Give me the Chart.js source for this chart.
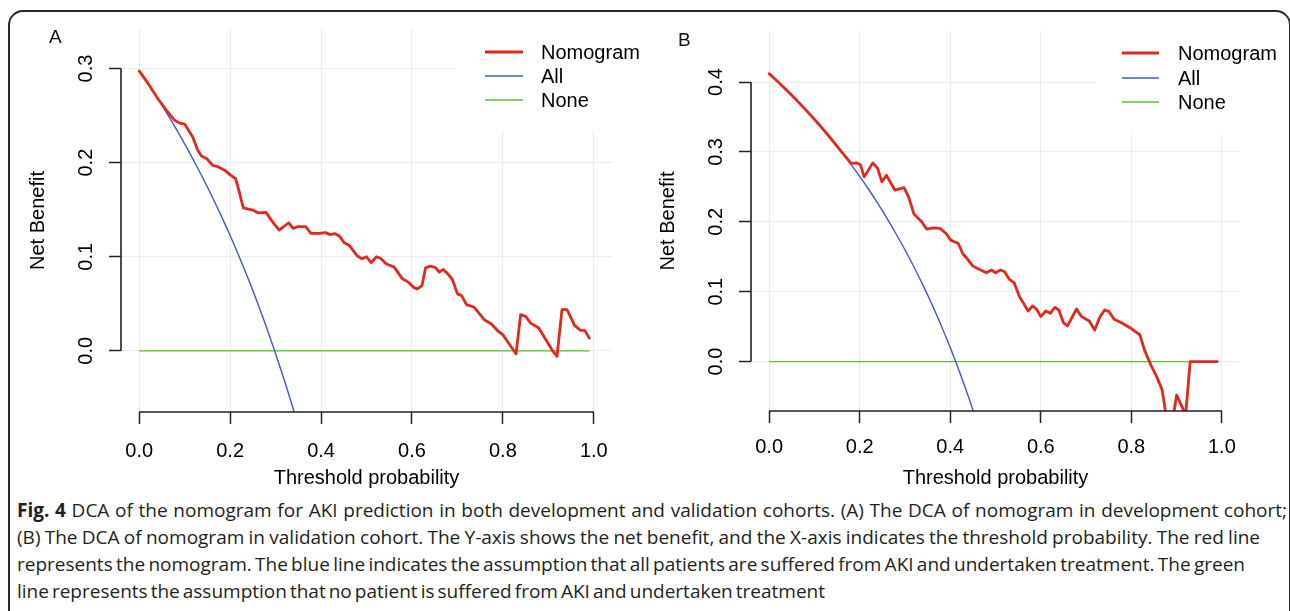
<!DOCTYPE html>
<html>
<head>
<meta charset="utf-8">
<script src="https://cdn.jsdelivr.net/npm/chart.js@4.4.1/dist/chart.umd.min.js"></script>
<style>
html,body{margin:0;padding:0;background:#fff;width:1290px;height:611px;overflow:hidden;position:relative;}
#frame{position:absolute;left:8px;top:10px;width:1279px;height:700px;border:2px solid #2a2a2a;border-radius:15px;}
.cv{position:absolute;top:0;}
.panel{position:absolute;font:19px "Liberation Sans",Arial,sans-serif;color:#111;line-height:20px;}
.cap{position:absolute;left:17px;font-family:"Open Sans",sans-serif;font-size:17px;color:#231f20;white-space:nowrap;line-height:20px;}
.cap b{font-weight:700;}
</style>
</head>
<body>
<div id="frame"></div>
<canvas id="cA" class="cv" style="left:0;width:660px;height:490px" width="660" height="490"></canvas>
<canvas id="cB" class="cv" style="left:640px;width:640px;height:490px" width="640" height="490"></canvas>
<div class="panel" style="left:49px;top:27px">A</div>
<div class="panel" style="left:678px;top:30px">B</div>
<div class="cap" style="top:500px"><b>Fig. 4</b> DCA of the nomogram for AKI prediction in both development and validation cohorts. (A) The DCA of nomogram in development cohort;</div>
<div class="cap" style="top:527px">(B) The DCA of nomogram in validation cohort. The Y-axis shows the net benefit, and the X-axis indicates the threshold probability. The red line</div>
<div class="cap" style="top:554px">represents the nomogram. The blue line indicates the assumption that all patients are suffered from AKI and undertaken treatment. The green</div>
<div class="cap" style="top:581px">line represents the assumption that no patient is suffered from AKI and undertaken treatment</div>
<script>
// ---------- data ----------
const seriesNames = ['Nomogram', 'All', 'None'];
const xTickLabels = ['0.0', '0.2', '0.4', '0.6', '0.8', '1.0'];
const yTickLabelsA = ['0.0', '0.1', '0.2', '0.3'];
const yTickLabelsB = ['0.0', '0.1', '0.2', '0.3', '0.4'];

// Panel A (development cohort)
const thresholdsA = [0,0.02,0.04,0.06,0.078,0.089,0.1,0.118,0.129,0.137,0.149,0.162,0.173,0.191,0.2,0.212,0.219,0.229,0.25,0.261,0.279,0.293,0.308,0.329,0.339,0.348,0.366,0.378,0.396,0.41,0.42,0.43,0.44,0.451,0.462,0.48,0.49,0.5,0.51,0.522,0.532,0.543,0.561,0.579,0.592,0.605,0.612,0.622,0.63,0.641,0.652,0.66,0.669,0.678,0.689,0.7,0.709,0.72,0.737,0.759,0.775,0.79,0.8,0.815,0.829,0.839,0.85,0.861,0.879,0.897,0.908,0.919,0.93,0.941,0.958,0.971,0.98,0.99];
const nomogramA = [0.2975,0.2837,0.2687,0.2555,0.245,0.242,0.241,0.227,0.213,0.207,0.204,0.197,0.1956,0.191,0.187,0.183,0.171,0.152,0.1496,0.1467,0.1471,0.1372,0.1283,0.1361,0.1301,0.1319,0.1319,0.1249,0.1249,0.1256,0.1235,0.1246,0.1221,0.115,0.112,0.1007,0.0979,0.1,0.0936,0.1,0.0979,0.0925,0.089,0.0765,0.073,0.0669,0.0658,0.0694,0.0883,0.09,0.0883,0.0836,0.0865,0.0822,0.0758,0.0605,0.0587,0.0491,0.0463,0.0331,0.0285,0.0206,0.0171,0.0064,-0.0032,0.0384,0.0367,0.0295,0.0242,0.01,0.0011,-0.006,0.0438,0.0438,0.0267,0.0217,0.0217,0.0135];
const allThresholdsA = [0,0.02,0.04,0.06,0.08,0.1,0.12,0.14,0.16,0.18,0.2,0.22,0.24,0.26,0.28,0.3,0.32,0.34,0.36];
const allA = [0.298,0.2837,0.2687,0.2532,0.237,0.22,0.2023,0.1837,0.1643,0.1439,0.1225,0.1,0.0763,0.0514,0.025,-0.0029,-0.0324,-0.0636,-0.0969];

// Panel B (validation cohort)
const thresholdsB = [0,0.02,0.04,0.06,0.08,0.1,0.12,0.14,0.16,0.181,0.194,0.202,0.21,0.229,0.24,0.249,0.259,0.278,0.298,0.308,0.32,0.337,0.348,0.363,0.377,0.391,0.401,0.418,0.428,0.436,0.45,0.465,0.48,0.491,0.5,0.511,0.52,0.53,0.541,0.553,0.562,0.572,0.582,0.591,0.6,0.611,0.621,0.631,0.64,0.65,0.659,0.679,0.69,0.707,0.719,0.731,0.741,0.751,0.762,0.78,0.799,0.819,0.829,0.843,0.856,0.868,0.88,0.89,0.9,0.92,0.93,0.99];
const nomogramB = [0.412,0.4,0.3875,0.3745,0.3609,0.3467,0.3318,0.3163,0.3,0.2835,0.2843,0.281,0.2643,0.2843,0.2762,0.2571,0.2667,0.2452,0.249,0.2357,0.211,0.2,0.1895,0.1914,0.1905,0.1833,0.1738,0.169,0.154,0.1485,0.1367,0.1319,0.1271,0.131,0.1271,0.131,0.1286,0.118,0.113,0.0929,0.0833,0.0724,0.0795,0.0748,0.0643,0.0724,0.069,0.0776,0.0738,0.0557,0.051,0.0752,0.0643,0.0581,0.0452,0.0643,0.0738,0.0714,0.0605,0.0548,0.0476,0.0381,0.0167,-0.0048,-0.0214,-0.0405,-0.09,-0.09,-0.048,-0.076,0,0];
const allThresholdsB = [0,0.02,0.04,0.06,0.08,0.1,0.12,0.14,0.16,0.18,0.2,0.22,0.24,0.26,0.28,0.3,0.32,0.34,0.36,0.38,0.4,0.42,0.44,0.46];
const allB = [0.412,0.4,0.3875,0.3745,0.3609,0.3467,0.3318,0.3163,0.3,0.2829,0.265,0.2462,0.2263,0.2054,0.1833,0.16,0.1353,0.1091,0.0813,0.0516,0.02,-0.0138,-0.05,-0.0889];

// treat-none reference line
const noneThresholds = [0, 0.99];
const noneValues = [0, 0];

// ---------- styling ----------
const RED = '#e2281c', BLUE = '#3e5cc0', GREEN = '#5cbf35';
const FONT = '"Liberation Sans", Arial, sans-serif';

function pairs(xs, ys) { return xs.map((x, i) => ({x: x, y: ys[i]})); }

// R-style axis lines spanning first..last tick
const rAxes = {
  id: 'rAxes',
  afterDraw(chart) {
    const {ctx, chartArea} = chart;
    const xs = chart.scales.x, ys = chart.scales.y;
    const xt = xs.ticks, yt = ys.ticks;
    ctx.save();
    ctx.strokeStyle = '#222';
    ctx.lineWidth = 1.6;
    ctx.beginPath();
    ctx.moveTo(xs.getPixelForValue(xt[0].value), chartArea.bottom);
    ctx.lineTo(xs.getPixelForValue(xt[xt.length - 1].value), chartArea.bottom);
    ctx.moveTo(chartArea.left, ys.getPixelForValue(yt[0].value));
    ctx.lineTo(chartArea.left, ys.getPixelForValue(yt[yt.length - 1].value));
    ctx.stroke();
    ctx.restore();
  }
};

// R-style legend with white background (covers the grid only)
const rLegend = {
  id: 'rLegend',
  afterDraw(chart, args, o) {
    const ctx = chart.ctx;
    const ca = chart.chartArea;
    ctx.save();
    ctx.fillStyle = '#fff';
    ctx.fillRect(o.boxLeft, ca.top - 1, ca.right - o.boxLeft + 2, o.boxBottom - ca.top + 1);
    ctx.font = '20px ' + FONT;
    ctx.textBaseline = 'middle';
    ctx.textAlign = 'left';
    chart.data.datasets.forEach((ds, i) => {
      const y = o.rows[i];
      ctx.strokeStyle = ds.borderColor;
      ctx.lineWidth = ds.borderWidth;
      ctx.beginPath();
      ctx.moveTo(o.lineX0, y);
      ctx.lineTo(o.lineX1, y);
      ctx.stroke();
      ctx.fillStyle = '#000';
      ctx.fillText(ds.label, o.textX, y + 1);
    });
    ctx.restore();
  }
};

function makePanel(id, cfg) {
  return new Chart(document.getElementById(id), {
    type: 'line',
    data: {
      datasets: [
        {label: seriesNames[0], data: pairs(cfg.tx, cfg.nom), borderColor: RED, borderWidth: 2.8, pointRadius: 0, tension: 0, borderJoinStyle: 'round', borderCapStyle: 'round'},
        {label: seriesNames[1], data: pairs(cfg.ax, cfg.all), borderColor: BLUE, borderWidth: 1.4, pointRadius: 0, cubicInterpolationMode: 'monotone'},
        {label: seriesNames[2], data: pairs(noneThresholds, noneValues), borderColor: GREEN, borderWidth: 1.4, pointRadius: 0}
      ]
    },
    options: {
      responsive: false,
      animation: false,
      events: [],
      layout: {autoPadding: false, padding: {left: 0, top: cfg.top, right: cfg.right, bottom: 0}},
      plugins: {
        legend: {display: false},
        tooltip: {enabled: false},
        rLegend: cfg.legend
      },
      scales: {
        x: {
          type: 'linear', min: -0.04, max: 1.04,
          grid: {color: '#ebebeb', lineWidth: 1, tickColor: '#222', tickWidth: 1.5, tickLength: 12},
          border: {display: false},
          ticks: {stepSize: 0.2, includeBounds: false, autoSkip: false, maxRotation: 0, padding: cfg.xPad, color: '#000',
                  font: {family: FONT, size: 20}, callback: (v, i) => xTickLabels[i]},
          title: {display: true, text: 'Threshold probability', color: '#000', font: {family: FONT, size: 20}, padding: {top: 0, bottom: 0}},
          afterFit: (s) => { s.height = cfg.xH; }
        },
        y: {
          type: 'linear', min: cfg.ymin, max: cfg.ymax,
          grid: {color: '#ebebeb', lineWidth: 1, tickColor: '#222', tickWidth: 1.5, tickLength: 12},
          border: {display: false},
          ticks: {stepSize: 0.1, includeBounds: false, autoSkip: false, minRotation: 90, maxRotation: 90, crossAlign: 'center', padding: 9, color: '#000',
                  font: {family: FONT, size: 20}, callback: (v, i) => cfg.yLabels[i]},
          title: {display: true, text: 'Net Benefit', color: '#000', font: {family: FONT, size: 20}, padding: {top: cfg.yTitlePad, bottom: 0}},
          afterFit: (s) => { s.width = cfg.yW; }
        }
      }
    },
    plugins: [rAxes, rLegend]
  });
}

makePanel('cA', {
  tx: thresholdsA, nom: nomogramA, ax: allThresholdsA, all: allA,
  ymin: -0.065, ymax: 0.342, yLabels: yTickLabelsA,
  top: 29, right: 48, yW: 121, xH: 78, xPad: 15, yTitlePad: 26,
  legend: {boxLeft: 456, boxBottom: 131, lineX0: 485, lineX1: 523, textX: 541, rows: [52, 76, 100]}
});
makePanel('cB', {
  tx: thresholdsB, nom: nomogramB, ax: allThresholdsB, all: allB,
  ymin: -0.0707, ymax: 0.473, yLabels: yTickLabelsB,
  top: 31, right: 40, yW: 111, xH: 79, xPad: 12, yTitlePad: 16,
  legend: {boxLeft: 456, boxBottom: 134, lineX0: 482, lineX1: 519, textX: 538, rows: [53, 78, 102]}
});

// ---------- caption fitting ----------
(function () {
  const lines = document.querySelectorAll('.cap');
  const targets = [1270, 1243, 1228, 808];
  const w1 = lines[0].getBoundingClientRect().width;
  let fs = 17 * targets[0] / w1;
  fs = Math.max(15, Math.min(19, fs));
  lines.forEach(el => { el.style.fontSize = fs + 'px'; });
  lines.forEach((el, i) => {
    const w = el.getBoundingClientRect().width;
    const n = (el.textContent.match(/ /g) || []).length;
    if (n) el.style.wordSpacing = ((targets[i] - w) / n) + 'px';
  });
})();
</script>
</body>
</html>
